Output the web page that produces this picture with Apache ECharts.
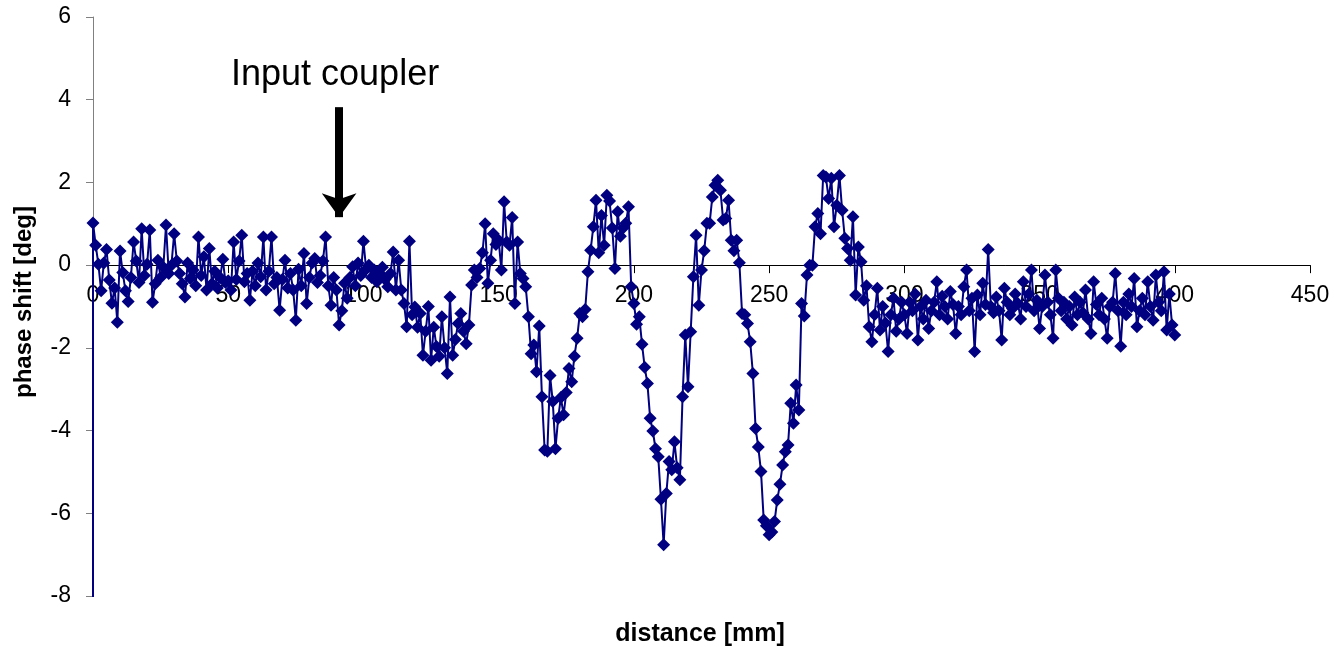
<!DOCTYPE html>
<html>
<head>
<meta charset="utf-8">
<script src="https://cdn.jsdelivr.net/npm/echarts@6/dist/echarts.min.js"></script>
<style>
  html, body { margin: 0; padding: 0; background: #fff; }
  #main { width: 1334px; height: 647px; }
</style>
</head>
<body>
<div id="main"></div>
<script>
// phase shift [deg] measured every 1 mm, from 0 to 400 mm
const phase = [
  1.02, 0.48, 0.02, -0.62, 0.05, 0.38, -0.36, -0.92, -0.55, -1.38,
  0.34, -0.18, -0.62, -0.88, -0.3, 0.56, 0.1, -0.42, 0.88, -0.25,
  0.02, 0.85, -0.9, -0.45, 0.12, -0.3, -0.05, 0.97, -0.2, 0.0,
  0.76, 0.1, -0.2, -0.45, -0.77, 0.05, -0.32, -0.12, -0.5, 0.68,
  -0.25, 0.2, -0.6, 0.4, -0.45, -0.15, -0.55, -0.3, 0.14, -0.42,
  -0.38, -0.6, 0.56, -0.35, 0.1, 0.72, -0.4, -0.2, -0.85, -0.15,
  -0.5, 0.05, -0.28, 0.68, -0.6, -0.15, 0.68, -0.45, -0.3, -1.09,
  -0.35, 0.12, -0.55, -0.2, -0.6, -1.33, -0.1, -0.5, 0.28, -0.93,
  -0.3, 0.05, 0.16, -0.42, -0.25, 0.1, 0.68, -0.5, -0.97, -0.3,
  -0.6, -1.45, -1.1, -0.44, -0.8, -0.3, -0.04, -0.5, 0.05, -0.25,
  0.58, -0.1, 0.0, -0.3, -0.12, -0.4, -0.2, -0.05, -0.35, -0.52,
  -0.2, 0.32, -0.6, 0.12, -0.6, -0.93, -1.49, 0.58, -1.2, -1.01,
  -1.5, -1.17, -2.18, -1.6, -1.0, -2.3, -1.5, -1.97, -2.2, -1.25,
  -2.0, -2.62, -0.77, -2.18, -1.8, -1.41, -1.17, -1.6, -1.9, -1.45,
  -0.48, -0.12, -0.3, -0.08, 0.3, 1.0, -0.44, 0.12, 0.76, 0.5,
  0.6, -0.12, 1.53, 0.56, 0.48, 1.15, -0.93, 0.56, -0.2, -0.32,
  -0.52, -1.25, -2.14, -1.93, -2.58, -1.47, -3.18, -4.47, -4.5, -2.67,
  -3.3, -4.44, -3.7, -3.2, -3.62, -3.08, -2.5, -2.82, -2.2, -1.77,
  -1.17, -1.25, -1.07, -0.16, 0.36, 0.93, 1.57, 0.3, 1.2, 0.48,
  1.69, 1.55, 0.9, -0.08, 1.29, 0.7, 0.9, 1.01, 1.41, -0.52,
  -0.93, -1.43, -1.25, -1.91, -2.47, -2.86, -3.7, -4.01, -4.44, -4.63,
  -5.66, -6.76, -5.52, -4.75, -4.95, -4.27, -4.9, -5.19, -3.18, -1.69,
  -2.94, -1.61, -0.28, 0.72, -0.97, -0.12, 0.35, 1.01, 1.01, 1.65,
  1.93, 2.05, 1.81, 1.09, 1.13, 1.57, 0.6, 0.35, 0.6, 0.06,
  -1.17, -1.2, -1.41, -1.85, -2.62, -3.95, -4.4, -4.99, -6.16, -6.3,
  -6.52, -6.45, -6.2, -5.68, -5.3, -4.83, -4.51, -4.35, -3.34, -3.82,
  -2.9, -3.5, -0.93, -1.23, -0.24, 0.0, 0.0, 0.93, 1.25, 0.76,
  2.17, 2.13, 1.61, 2.1, 0.93, 1.45, 2.17, 1.33, 0.65, 0.4,
  0.12, 1.17, -0.72, 0.44, 0.08, -0.85, -0.5, -1.49, -1.85, -1.2,
  -0.56, -1.57, -1.0, -1.4, -2.09, -1.2, -0.8, -1.6, -1.3, -0.9,
  -1.2, -1.65, -0.9, -1.1, -0.7, -1.81, -1.0, -1.3, -0.85, -1.53,
  -1.1, -0.9, -0.4, -1.2, -0.75, -1.0, -1.3, -0.64, -0.95, -1.65,
  -1.0, -1.2, -0.52, -0.12, -1.1, -0.8, -2.09, -0.72, -1.2, -0.44,
  -0.95, 0.38, -1.0, -1.15, -0.77, -1.1, -1.81, -0.56, -0.9, -1.2,
  -1.05, -0.7, -0.93, -1.3, -0.4, -1.0, -0.7, -0.12, -1.1, -0.85,
  -1.53, -1.0, -0.24, -0.9, -1.2, -1.77, -0.12, -0.8, -1.1, -0.9,
  -1.3, -1.0, -1.45, -0.77, -1.2, -0.9, -1.15, -0.6, -1.3, -1.65,
  -0.4, -0.95, -1.2, -0.8, -1.3, -1.77, -1.0, -0.9, -0.2, -1.1,
  -1.96, -0.9, -1.2, -0.7, -1.0, -0.32, -1.49, -1.1, -0.8, -1.2,
  -0.4, -1.0, -1.33, -0.24, -0.9, -1.1, -0.16, -1.57, -0.7, -1.45,
  -1.69
];
// first recorded sample, far below the axis range (drawn as the drop at 0 mm)
const startPoint = [0, -12];
// annotation arrow: x position and top / end of the shaft [deg]
const couplerX = 91;
const arrowTop = 3.82;
const arrowEnd = 1.16;

const points = [startPoint].concat(phase.map((v, i) => [i, v]));

const font = "'Liberation Sans', Arial, sans-serif";
const chart = echarts.init(document.getElementById('main'));
chart.setOption({
  animation: false,
  backgroundColor: '#fff',
  grid: { left: 93, right: 24, top: 17, bottom: 51 },
  xAxis: {
    type: 'value',
    min: 0, max: 450, interval: 50,
    axisLine: { onZero: false, lineStyle: { color: '#000', width: 1 } },
    axisTick: { show: true, length: 8, lineStyle: { color: '#000' } },
    axisLabel: { color: '#000', fontSize: 23, fontFamily: font, margin: 19 },
    splitLine: { show: false }
  },
  yAxis: {
    type: 'value',
    min: -8, max: 6, interval: 2,
    axisLine: { show: true, lineStyle: { color: '#808080', width: 1 } },
    axisTick: { show: true, length: 7, lineStyle: { color: '#808080' } },
    axisLabel: { color: '#000', fontSize: 23, fontFamily: font, margin: 22 },
    splitLine: { show: false }
  },
  graphic: [
    {
      type: 'text', left: 231, top: 57,
      style: { text: 'Input coupler', fontSize: 36, fontFamily: font, fill: '#000' }
    },
    {
      type: 'text', x: 24, y: 302, rotation: Math.PI / 2,
      style: { text: 'phase shift [deg]', fontSize: 24, fontWeight: 'bold', fontFamily: font,
               fill: '#000', align: 'center', verticalAlign: 'middle' }
    },
    {
      type: 'text', x: 700, y: 634,
      style: { text: 'distance [mm]', fontSize: 25, fontWeight: 'bold', fontFamily: font,
               fill: '#000', align: 'center', verticalAlign: 'middle' }
    }
  ],
  series: [{
    type: 'line',
    data: points,
    clip: true,
    symbol: 'diamond',
    symbolSize: 13,
    showAllSymbol: true,
    itemStyle: { color: '#000080' },
    lineStyle: { color: '#000080', width: 2 },
    markLine: {
      silent: true,
      symbol: ['none', 'arrow'],
      symbolSize: [26, 24],
      label: { show: false },
      lineStyle: { color: '#000', width: 8, type: 'solid' },
      data: [[{ coord: [couplerX, arrowTop] }, { coord: [couplerX, arrowEnd] }]]
    }
  }]
});

// put the x axis (line, ticks and labels) on the zero line of the phase axis
const zeroY = chart.convertToPixel({ yAxisIndex: 0 }, 0);
const bottomY = chart.convertToPixel({ yAxisIndex: 0 }, -8);
chart.setOption({ xAxis: { offset: zeroY - bottomY } });
</script>
</body>
</html>
